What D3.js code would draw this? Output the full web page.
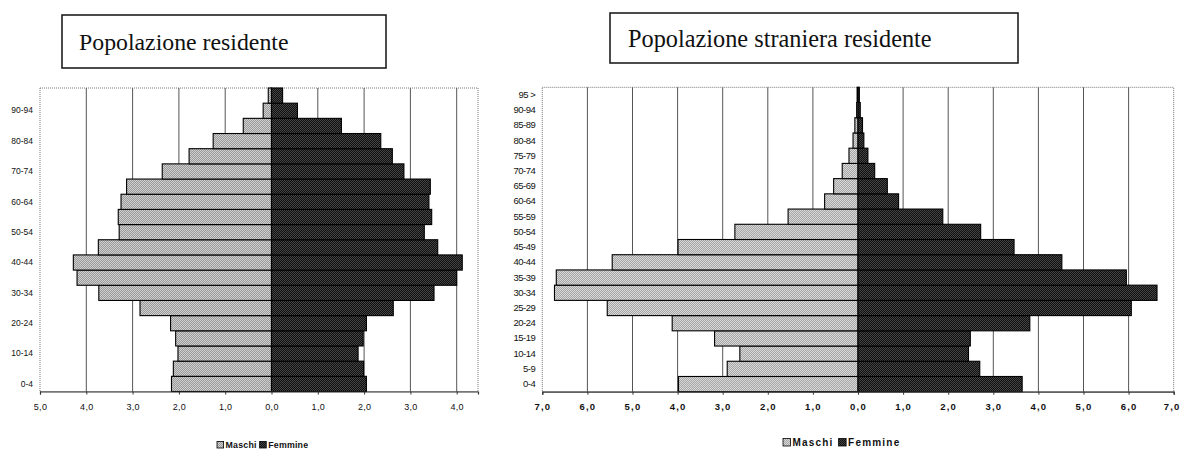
<!DOCTYPE html>
<html>
<head>
<meta charset="utf-8">
<script src="https://cdn.jsdelivr.net/npm/d3@7"></script>
<style>
  html, body { margin: 0; padding: 0; background: #fff; }
  svg { display: block; }
  .tick-lbl { font-family: Arial, "Liberation Sans", sans-serif; fill: #111; }
  .box-title { font-family: "Liberation Serif", "DejaVu Serif", serif; fill: #111; }
</style>
</head>
<body>
<svg id="chart" width="1181" height="450"></svg>
<script>
// classi di età, dal basso verso l'alto
const ageGroups = ['0-4', '5-9', '10-14', '15-19', '20-24', '25-29', '30-34', '35-39', '40-44', '45-49',
    '50-54', '55-59', '60-64', '65-69', '70-74', '75-79', '80-84', '85-89', '90-94', '95 >'];

// Popolazione residente (%)
const residentiMaschi = [2.16, 2.12, 2.02, 2.07, 2.18, 2.84, 3.73, 4.20, 4.28, 3.74,
    3.29, 3.31, 3.25, 3.13, 2.36, 1.78, 1.26, 0.61, 0.18, 0.07];
const residentiFemmine = [2.05, 1.99, 1.87, 1.98, 2.05, 2.63, 3.51, 4.00, 4.12, 3.59,
    3.30, 3.46, 3.40, 3.43, 2.86, 2.61, 2.36, 1.51, 0.56, 0.24];

// Popolazione straniera residente (%)
const stranieriMaschi = [3.98, 2.90, 2.62, 3.18, 4.12, 5.56, 6.73, 6.69, 5.45, 3.99,
    2.73, 1.55, 0.74, 0.54, 0.35, 0.20, 0.11, 0.07, 0.03, 0.02];
const stranieriFemmine = [3.64, 2.70, 2.45, 2.49, 3.81, 6.06, 6.63, 5.95, 4.52, 3.46,
    2.72, 1.88, 0.90, 0.65, 0.37, 0.22, 0.13, 0.10, 0.05, 0.03];

const residentiTicks = [-5, -4, -3, -2, -1, 0, 1, 2, 3, 4];
const stranieriTicks = [-7, -6, -5, -4, -3, -2, -1, 0, 1, 2, 3, 4, 5, 6, 7];
const legendLabels = ['Maschi', 'Femmine'];

const svg = d3.select('#chart');
svg.append('rect').attr('width', 1181).attr('height', 450).attr('fill', '#fff');

// retini tipo stampa/scansione
const defs = svg.append('defs');
function dither(id, a, b) {
    const p = defs.append('pattern').attr('id', id).attr('width', 2).attr('height', 2)
        .attr('patternUnits', 'userSpaceOnUse');
    p.append('rect').attr('width', 2).attr('height', 2).attr('fill', a);
    p.append('rect').attr('width', 1).attr('height', 1).attr('fill', b);
    p.append('rect').attr('x', 1).attr('y', 1).attr('width', 1).attr('height', 1).attr('fill', b);
}
dither('pat-m', '#9a9a9a', '#cfcfcf');
dither('pat-f', '#101010', '#444');
dither('pat-m2', '#a6a6a6', '#d8d8d8');

const fmt = d => Math.abs(d).toFixed(1).replace('.', ',');

function drawPyramid(cfg) {
    const g = svg.append('g');
    const x = d3.scaleLinear().domain(cfg.domain).range([cfg.left, cfg.right]);
    const y = d3.scaleBand().domain(ageGroups.slice().reverse()).range([cfg.top, cfg.bottom]).padding(0);

    // bordo area del grafico (tratteggiato)
    g.append('rect')
        .attr('x', cfg.left).attr('y', cfg.top)
        .attr('width', cfg.right - cfg.left).attr('height', cfg.bottom - cfg.top)
        .attr('fill', 'none').attr('stroke', '#777').attr('stroke-width', 1)
        .attr('stroke-dasharray', '1,1');

    // griglia verticale
    g.append('g').selectAll('line')
        .data(cfg.ticks.filter(t => t !== cfg.domain[0] && t !== cfg.domain[1]))
        .join('line')
        .attr('x1', d => x(d)).attr('x2', d => x(d))
        .attr('y1', cfg.top).attr('y2', cfg.bottom)
        .attr('stroke', '#555').attr('stroke-width', 1);

    const rows = ageGroups.map((a, i) => ({ age: a, m: cfg.maschi[i], f: cfg.femmine[i] }));

    g.append('g').selectAll('rect')
        .data(rows).join('rect')
        .attr('x', d => x(-d.m)).attr('width', d => x(0) - x(-d.m))
        .attr('y', d => y(d.age)).attr('height', y.bandwidth())
        .attr('fill', `url(#${cfg.patM})`).attr('stroke', '#000').attr('stroke-width', 1.1);

    g.append('g').selectAll('rect')
        .data(rows).join('rect')
        .attr('x', x(0)).attr('width', d => x(d.f) - x(0))
        .attr('y', d => y(d.age)).attr('height', y.bandwidth())
        .attr('fill', 'url(#pat-f)').attr('stroke', '#000').attr('stroke-width', 1.1);

    // asse x
    const xAxis = d3.axisBottom(x).tickValues(cfg.ticks).tickFormat(fmt).tickSize(3).tickPadding(9);
    const ax = g.append('g').attr('transform', `translate(0,${cfg.bottom})`).call(xAxis);
    ax.select('.domain').attr('stroke', '#333').attr('stroke-width', 1.2);
    ax.selectAll('.tick line').attr('stroke', '#333');
    ax.selectAll('text').attr('class', 'tick-lbl').attr('font-size', cfg.xFont)
        .attr('font-weight', cfg.xBold ? 'bold' : 'normal')
        .attr('letter-spacing', cfg.xSpacing).attr('fill', '#111');
    // l'ultima etichetta a destra resta dentro la pagina
    if (cfg.lastEnd) {
        ax.selectAll('.tick').filter(d => d === cfg.domain[1]).select('text')
            .attr('text-anchor', 'end').attr('x', 1181 - cfg.right - 1);
    }

    // asse y (etichette)
    const yAxis = d3.axisLeft(y).tickSize(0).tickPadding(cfg.yPad)
        .tickValues(ageGroups.filter((a, i) => cfg.yEvery === 1 || (i % 2 === 0 && a !== '95 >')));
    const ay = g.append('g').attr('transform', `translate(${cfg.left},0)`).call(yAxis);
    ay.select('.domain').remove();
    ay.selectAll('text').attr('class', 'tick-lbl').attr('font-size', cfg.yFont)
        .attr('letter-spacing', cfg.ySpacing).attr('fill', '#111');

    // legenda
    const lg = g.append('g').attr('transform', `translate(${cfg.legendX},${cfg.legendY})`);
    let cx = 0;
    legendLabels.forEach((lab, i) => {
        lg.append('rect').attr('x', cx).attr('y', -cfg.legendFont * 0.75)
            .attr('width', cfg.legendFont * 0.75).attr('height', cfg.legendFont * 0.75)
            .attr('fill', i === 0 ? `url(#${cfg.patM})` : 'url(#pat-f)')
            .attr('stroke', '#000').attr('stroke-width', 0.8);
        const t = lg.append('text').attr('class', 'tick-lbl')
            .attr('x', cx + cfg.legendFont * 0.75 + 2).attr('y', 0)
            .attr('font-size', cfg.legendFont).attr('font-weight', 'bold')
            .attr('letter-spacing', cfg.legendSpacing).text(lab);
        cx += cfg.legendFont * 0.75 + 2 + t.node().getComputedTextLength() + cfg.legendGap;
    });

    // riquadro titolo
    svg.append('rect')
        .attr('x', cfg.box[0]).attr('y', cfg.box[1]).attr('width', cfg.box[2]).attr('height', cfg.box[3])
        .attr('fill', '#fff').attr('stroke', '#111').attr('stroke-width', 1.5);
    svg.append('text').attr('class', 'box-title')
        .attr('x', cfg.box[0] + cfg.titleDx).attr('y', cfg.box[1] + cfg.titleDy)
        .attr('font-size', cfg.titleSize).text(cfg.title);
}

drawPyramid({
    title: 'Popolazione residente',
    maschi: residentiMaschi, femmine: residentiFemmine,
    domain: [-5, 4.46], ticks: residentiTicks,
    left: 40, right: 478, top: 88, bottom: 391.5,
    patM: 'pat-m',
    xFont: 9, xBold: false, xSpacing: 0.3,
    yFont: 8.5, yPad: 7, ySpacing: 0, yEvery: 2,
    legendX: 217, legendY: 448, legendFont: 8.8, legendSpacing: 0.2, legendGap: 3,
    box: [62, 15, 324, 53], titleDx: 17, titleDy: 35, titleSize: 23.8
});

drawPyramid({
    title: 'Popolazione straniera residente',
    maschi: stranieriMaschi, femmine: stranieriFemmine,
    domain: [-7, 7], ticks: stranieriTicks,
    left: 542.3, right: 1173.7, top: 87.3, bottom: 391.7,
    patM: 'pat-m2',
    xFont: 9.5, xBold: true, xSpacing: 1.2, lastEnd: true,
    yFont: 9.5, yPad: 7, ySpacing: -0.5, yEvery: 1,
    legendX: 783, legendY: 446, legendFont: 10, legendSpacing: 1.2, legendGap: 5,
    box: [610, 13, 408, 50], titleDx: 18, titleDy: 34, titleSize: 24.3
});
</script>
</body>
</html>
